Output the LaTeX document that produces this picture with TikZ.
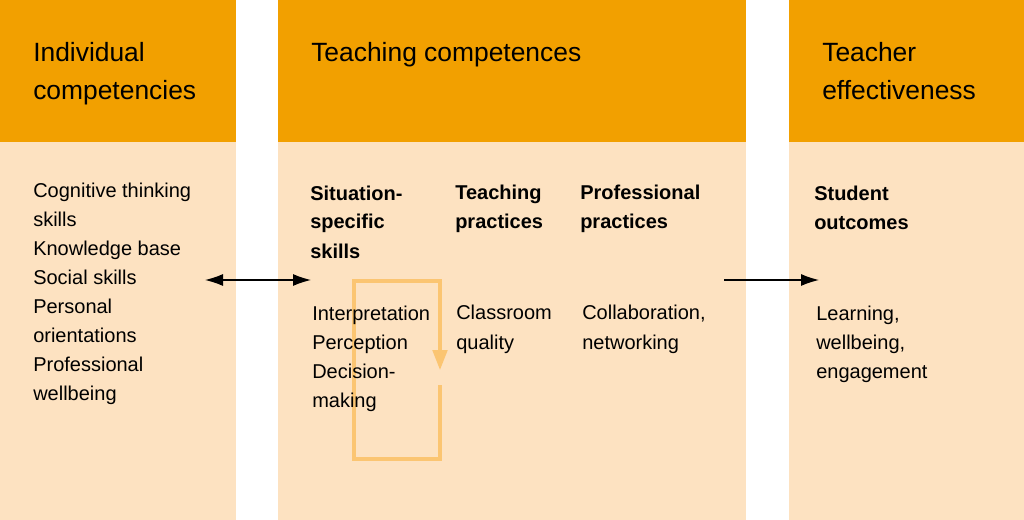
\documentclass[tikz,border=0pt]{standalone}
\usepackage{fontspec}
\setmainfont{Liberation Sans}
\usetikzlibrary{arrows.meta}
\definecolor{hdr}{HTML}{F2A000}
\definecolor{bdy}{HTML}{FDE2C1}
\definecolor{loopc}{HTML}{FBC572}
\begin{document}
\begin{tikzpicture}[x=0.75pt,y=-0.75pt,
  hdrtext/.style={anchor=base west,inner sep=0,align=left,font=\fontsize{19.8}{28.5}\selectfont},
  bodytext/.style={anchor=base west,inner sep=0,align=left,font=\fontsize{15}{21.75}\selectfont},
  boldtext/.style={bodytext,font=\fontsize{15}{21.75}\selectfont\bfseries},
  arr/.style={line width=0.9pt,-{Latex[length=13.5pt,width=9pt]}},
  darr/.style={line width=0.9pt,{Latex[length=13.5pt,width=9pt]}-{Latex[length=13.5pt,width=9pt]}},
  looparr/.style={draw=loopc,line width=2.3pt,-{Triangle[length=15pt,width=11pt]}}]
\useasboundingbox (0,0) rectangle (1024,520);
\fill[white] (0,0) rectangle (1024,520);
% columns
\fill[hdr] (0,0) rectangle (236,142);
\fill[bdy] (0,142) rectangle (236,520);
\fill[hdr] (278,0) rectangle (746,142);
\fill[bdy] (278,142) rectangle (746,520);
\fill[hdr] (789,0) rectangle (1024,142);
\fill[bdy] (789,142) rectangle (1024,520);
% loop (behind the text)
\coordinate (l0) at (440,385);
\coordinate (l1) at (440,459);
\coordinate (l2) at (354,459);
\coordinate (l3) at (354,281);
\coordinate (l4) at (440,281);
\coordinate (l5) at (440,370);
\draw[looparr] (l0) -- (l1) -- (l2) -- (l3) -- (l4) -- (l5);
% headers (base anchor = baseline of last line)
\node[hdrtext] (h1) at (33,100) {Individual\\competencies};
\node[hdrtext] (h2) at (311,62) {Teaching competences};
\node[hdrtext] (h3) at (822,100) {Teacher\\effectiveness};
% body left
\node[bodytext] (ind) at (33,400) {Cognitive thinking\\skills\\Knowledge base\\Social skills\\Personal\\orientations\\Professional\\wellbeing};
% sub headers
\node[boldtext] (s1) at (310,258) {Situation-\\specific\\skills};
\node[boldtext] (s2) at (455,229) {Teaching\\practices};
\node[boldtext] (s3) at (580,229) {Professional\\practices};
\node[boldtext] (s4) at (814,230) {Student\\outcomes};
% sub items
\node[bodytext] (t1) at (312,407) {Interpretation\\Perception\\Decision-\\making};
\node[bodytext] (t2) at (456,349) {Classroom\\quality};
\node[bodytext] (t3) at (582,349) {Collaboration,\\networking};
\node[bodytext] (t4) at (816,378) {Learning,\\wellbeing,\\engagement};
% arrows
\coordinate (a1) at (205,280);
\coordinate (a2) at (311,280);
\coordinate (b1) at (724,280);
\coordinate (b2) at (819,280);
\draw[darr] (a1) -- (a2);
\draw[arr] (b1) -- (b2);
\end{tikzpicture}
\end{document}
